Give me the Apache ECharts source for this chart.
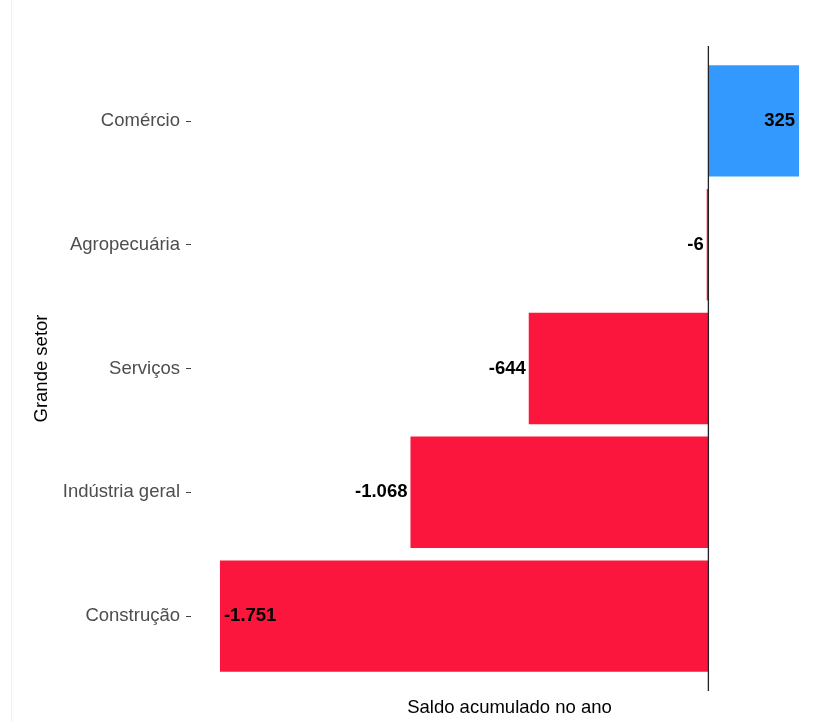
<!DOCTYPE html>
<html>
<head>
<meta charset="utf-8">
<script src="https://cdn.jsdelivr.net/npm/echarts@6/dist/echarts.min.js"></script>
<style>
html,body{margin:0;padding:0;background:#fff;}
#main{width:828px;height:722px;}
</style>
</head>
<body>
<div id="main"></div>
<script>
// setores de cima para baixo
var setores = ['Comércio', 'Agropecuária', 'Serviços', 'Indústria geral', 'Construção'];
var saldo = [325, -6, -644, -1068, -1751];

var corPos = '#3399FF';
var corNeg = '#FA163C';
var fonte = '"Liberation Sans", Arial, Helvetica, sans-serif';

function fmtBR(v){
    var s = String(Math.abs(v)).replace(/\B(?=(\d{3})+(?!\d))/g, '.');
    return (v < 0 ? '-' : '') + s;
}

// expansao de 5% como no ggplot
var lo = Math.min.apply(null, saldo), hi = Math.max.apply(null, saldo);
var pad = (hi - lo) * 0.05;

var barras = saldo.map(function(v){
    var pos;
    if (v > 0) pos = 'insideRight';
    else if (v < -1500) pos = 'insideLeft';
    else pos = 'left';
    return {
        value: v,
        itemStyle: {color: v > 0 ? corPos : corNeg},
        label: {position: pos, distance: pos == 'left' ? 3 : 4}
    };
});

var myChart = echarts.init(document.getElementById('main'));
var option = {
    animation: false,
    backgroundColor: '#fff',
    textStyle: {fontFamily: fonte},
    grid: {left: 191, top: 59, width: 638, height: 625, containLabel: false},
    xAxis: {
        type: 'value',
        min: lo - pad,
        max: hi + pad,
        name: 'Saldo acumulado no ano',
        nameLocation: 'middle',
        nameGap: 20,
        nameTextStyle: {color: '#000', fontSize: 18.5, fontFamily: fonte},
        axisLine: {show: false, onZero: false},
        axisTick: {show: false},
        axisLabel: {show: false},
        splitLine: {show: false}
    },
    yAxis: {
        type: 'category',
        data: setores,
        inverse: true,
        name: 'Grande setor',
        nameLocation: 'middle',
        nameGap: 136,
        nameRotate: 90,
        nameTextStyle: {color: '#000', fontSize: 18.5, fontFamily: fonte},
        axisLine: {show: false, onZero: false},
        axisTick: {show: true, alignWithLabel: true, length: 5, lineStyle: {color: '#444', width: 1}},
        axisLabel: {color: '#4d4d4d', fontSize: 18.5, margin: 11, fontFamily: fonte},
        splitLine: {show: false}
    },
    series: [{
        type: 'bar',
        data: barras,
        barCategoryGap: '10%',
        label: {
            show: true,
            color: '#000',
            fontWeight: 'bold',
            fontSize: 18.5,
            fontFamily: fonte,
            formatter: function(p){ return fmtBR(p.value); }
        }
    }]
};
myChart.setOption(option);

// linha vertical no zero cobrindo todo o painel
var x0 = myChart.convertToPixel({xAxisIndex: 0}, 0);
myChart.setOption({
    graphic: [
        {type: 'line', shape: {x1: 11.5, y1: 0, x2: 11.5, y2: 722}, style: {stroke: '#f0f0f0', lineWidth: 1}, silent: true},
        {type: 'line', shape: {x1: x0, y1: 46, x2: x0, y2: 691}, style: {stroke: '#222', lineWidth: 1.3}, z: 100, silent: true}
    ]
});
</script>
</body>
</html>
